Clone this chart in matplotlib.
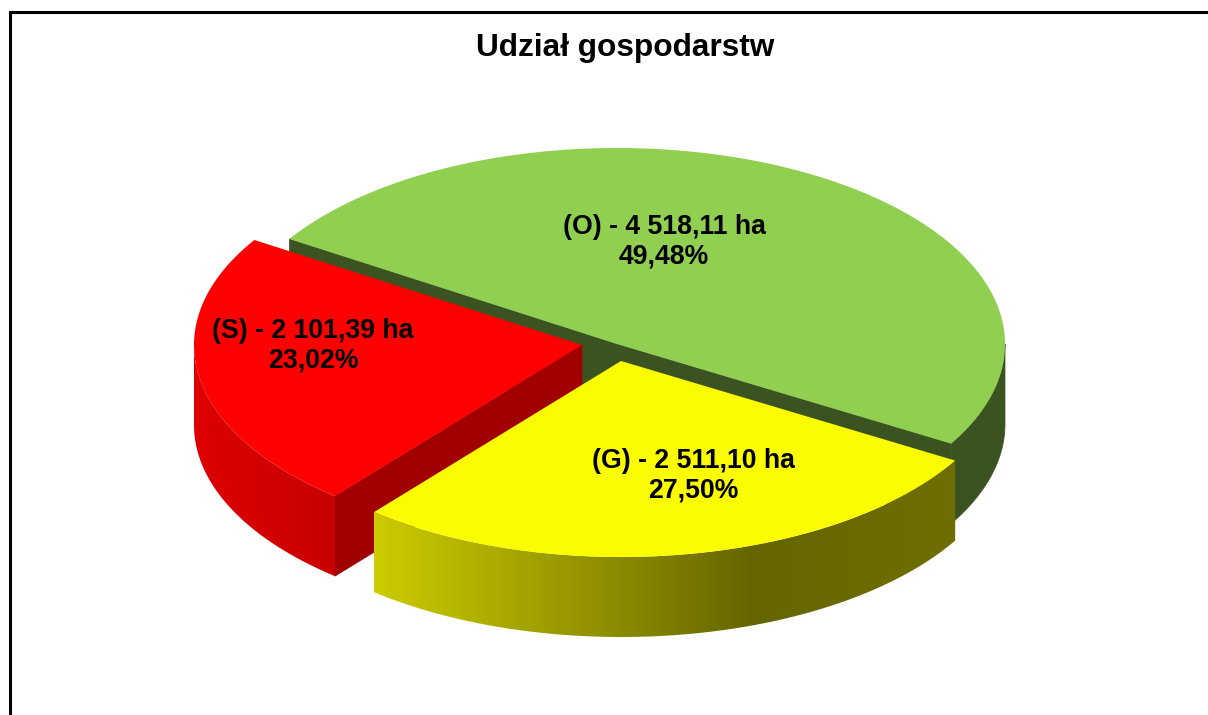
import numpy as np
import matplotlib
matplotlib.use("Agg")
import matplotlib.pyplot as plt
from matplotlib.colors import LinearSegmentedColormap
from matplotlib.patches import Polygon

title = "Udział gospodarstw"
names = ["(O)", "(G)", "(S)"]
areas = [4518.11, 2511.10, 2101.39]
area_labels = ["4 518,11 ha", "2 511,10 ha", "2 101,39 ha"]
share_labels = ["49,48%", "27,50%", "23,02%"]

top_colors = ["#90CF50", "#FCFC00", "#FF0000"]
cut_colors = ["#3B5321", "#666600", "#A00000"]

# pie geometry in pixels of the picture
start_angle = 147.6
rx, ry = 388, 196
depth = 80
centers = [(617, 344), (621, 361), (582, 345)]
label_pos = [(664, 242), (693, 476), (313, 346)]

plt.rcParams["font.family"] = ["Liberation Sans", "DejaVu Sans"]
fig = plt.figure(figsize=(12.08, 7.15), dpi=100)
ax = fig.add_axes([0, 0, 1, 1])
ax.set_xlim(0, 1208)
ax.set_ylim(715, 0)
ax.axis("off")

ax.plot([10, 10, 1208], [715, 12, 12], color="black", lw=2.2, solid_joinstyle="miter")


def arc(cx, cy, a0, a1, n=200):
    t = np.radians(np.linspace(a0, a1, n))
    return np.column_stack([cx + rx * np.cos(t), cy - ry * np.sin(t)])


def band(cx, cy, a0, a1):
    # outer wall between two angles, shifted down by the depth
    pts = arc(cx, cy, a0, a1)
    low = pts[::-1] + [0, depth]
    return np.vstack([pts, low])


def gradient_wall(pts, x0, x1, stops, z):
    cmap = LinearSegmentedColormap.from_list("wall", stops)
    grad = np.linspace(0, 1, 400).reshape(1, -1)
    im = ax.imshow(grad, cmap=cmap, extent=[x0, x1, 715, 0], aspect="auto", zorder=z)
    clip = Polygon(pts, closed=True, transform=ax.transData, fc="none", ec="none")
    ax.add_patch(clip)
    im.set_clip_path(clip)


spans = np.array(areas) / sum(areas) * 360
starts = start_angle - np.concatenate([[0], np.cumsum(spans)[:-1]])
ends = starts - spans

# green slice: walls first
cx, cy = centers[0]
rim = arc(cx, cy, starts[0], ends[0])
cut = np.vstack([rim[0], [cx, cy], rim[-1]])
cut_low = cut[::-1] + [0, depth]
ax.add_patch(Polygon(np.vstack([cut, cut_low]), fc=cut_colors[0], ec=cut_colors[0], lw=0.5, zorder=1))
ax.add_patch(Polygon(band(cx, cy, 0, ends[0]), fc=cut_colors[0], ec=cut_colors[0], lw=0.5, zorder=1))
ax.add_patch(Polygon(np.vstack([rim, [cx, cy]]), fc=top_colors[0], ec="none", zorder=2))

# red slice
cx, cy = centers[2]
rim = arc(cx, cy, starts[2], ends[2])
wall = band(cx, cy, -180, starts[1] - spans[1])
gradient_wall(wall, cx - rx, rim[0, 0], ["#DE0000", "#C80000"], 3)
cut = np.vstack([[cx, cy], rim[0]])
ax.add_patch(Polygon(np.vstack([cut, cut[::-1] + [0, depth]]), fc=cut_colors[2], ec=cut_colors[2], lw=0.5, zorder=3))
ax.add_patch(Polygon(np.vstack([rim, [cx, cy]]), fc=top_colors[2], ec="none", zorder=4))

# yellow slice
cx, cy = centers[1]
rim = arc(cx, cy, starts[1], ends[1])
wall = band(cx, cy, starts[1], ends[1])
gradient_wall(wall, rim[-1, 0], rim[0, 0], [(0, "#CCCC00"), (0.65, "#666600"), (1, "#6F6E00")], 5)
ax.add_patch(Polygon(np.vstack([rim, [cx, cy]]), fc=top_colors[1], ec="none", zorder=6))

ax.set_xlim(0, 1208)
ax.set_ylim(715, 0)

ax.text(625, 48, title, fontsize=22.8, fontweight="bold", ha="center", va="center", color="black", zorder=8)
for name, area, share, (x, y) in zip(names, area_labels, share_labels, label_pos):
    ax.text(x, y, f"{name} - {area}\n{share}", fontsize=19.2, fontweight="bold", ha="center", va="center",
            color="black", linespacing=1.2, zorder=8)

fig.savefig("out.png", dpi=100)
